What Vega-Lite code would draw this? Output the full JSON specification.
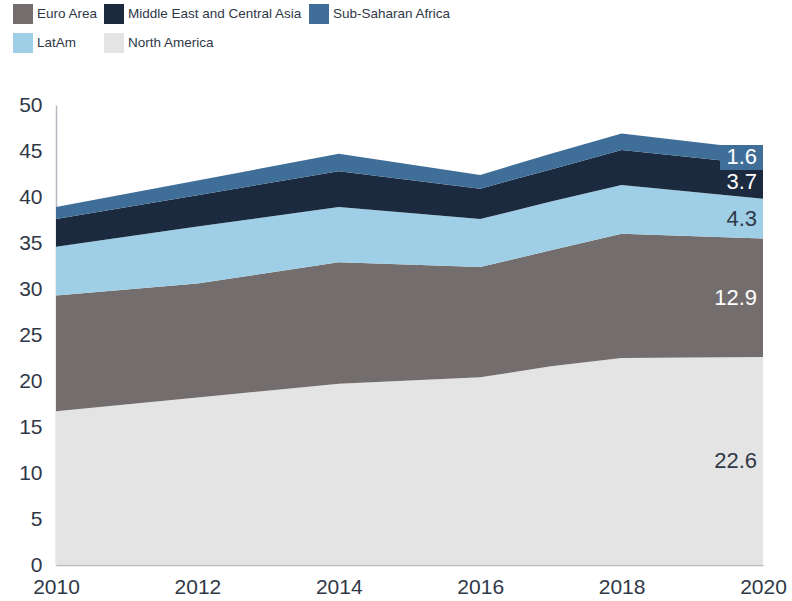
{
  "$schema": "https://vega.github.io/schema/vega-lite/v6.json",
  "width": 707,
  "height": 460,
  "autosize": {"type": "none"},
  "padding": {"left": 56, "top": 105, "right": 29, "bottom": 36},
  "background": "white",
  "config": {
    "view": {"stroke": null},
    "font": "Liberation Sans"
  },
  "data": {
    "values": [
      {"year": 2010, "region": "North America", "value": 16.7},
      {"year": 2010, "region": "Euro Area", "value": 12.6},
      {"year": 2010, "region": "LatAm", "value": 5.3},
      {"year": 2010, "region": "Middle East and Central Asia", "value": 3.0},
      {"year": 2010, "region": "Sub-Saharan Africa", "value": 1.3},
      {"year": 2012, "region": "North America", "value": 18.2},
      {"year": 2012, "region": "Euro Area", "value": 12.4},
      {"year": 2012, "region": "LatAm", "value": 6.2},
      {"year": 2012, "region": "Middle East and Central Asia", "value": 3.4},
      {"year": 2012, "region": "Sub-Saharan Africa", "value": 1.6},
      {"year": 2014, "region": "North America", "value": 19.7},
      {"year": 2014, "region": "Euro Area", "value": 13.2},
      {"year": 2014, "region": "LatAm", "value": 6.0},
      {"year": 2014, "region": "Middle East and Central Asia", "value": 3.9},
      {"year": 2014, "region": "Sub-Saharan Africa", "value": 1.9},
      {"year": 2016, "region": "North America", "value": 20.4},
      {"year": 2016, "region": "Euro Area", "value": 12.0},
      {"year": 2016, "region": "LatAm", "value": 5.2},
      {"year": 2016, "region": "Middle East and Central Asia", "value": 3.3},
      {"year": 2016, "region": "Sub-Saharan Africa", "value": 1.5},
      {"year": 2017, "region": "North America", "value": 21.6},
      {"year": 2017, "region": "Euro Area", "value": 12.6},
      {"year": 2017, "region": "LatAm", "value": 5.3},
      {"year": 2017, "region": "Middle East and Central Asia", "value": 3.5},
      {"year": 2017, "region": "Sub-Saharan Africa", "value": 1.7},
      {"year": 2018, "region": "North America", "value": 22.5},
      {"year": 2018, "region": "Euro Area", "value": 13.5},
      {"year": 2018, "region": "LatAm", "value": 5.3},
      {"year": 2018, "region": "Middle East and Central Asia", "value": 3.8},
      {"year": 2018, "region": "Sub-Saharan Africa", "value": 1.8},
      {"year": 2020, "region": "North America", "value": 22.6},
      {"year": 2020, "region": "Euro Area", "value": 12.9},
      {"year": 2020, "region": "LatAm", "value": 4.3},
      {"year": 2020, "region": "Middle East and Central Asia", "value": 3.7},
      {"year": 2020, "region": "Sub-Saharan Africa", "value": 1.6}
    ]
  },
  "transform": [
    {"calculate": "indexof(['North America','Euro Area','LatAm','Middle East and Central Asia','Sub-Saharan Africa'], datum.region)", "as": "ord"}
  ],
  "layer": [
    {
      "mark": {"type": "area", "opacity": 1},
      "encoding": {
        "x": {
          "field": "year", "type": "quantitative",
          "scale": {"domain": [2010, 2020], "nice": false, "zero": false},
          "axis": {
            "title": null, "values": [2010, 2012, 2014, 2016, 2018, 2020], "format": "d",
            "grid": false, "ticks": false, "domainColor": "#b5bac2", "domainWidth": 1.5,
            "labelFontSize": 21, "labelColor": "#2f3847", "labelPadding": 11, "labelFlush": false
          }
        },
        "y": {
          "field": "value", "type": "quantitative", "stack": "zero",
          "scale": {"domain": [0, 50], "nice": false},
          "axis": {
            "title": null, "values": [0, 5, 10, 15, 20, 25, 30, 35, 40, 45, 50],
            "grid": false, "ticks": false, "domainColor": "#b5bac2", "domainWidth": 1.5,
            "labelFontSize": 21, "labelColor": "#2f3847", "labelPadding": 14
          }
        },
        "order": {"field": "ord", "type": "quantitative"},
        "color": {
          "field": "region", "type": "nominal",
          "scale": {
            "domain": ["Euro Area", "Middle East and Central Asia", "Sub-Saharan Africa", "LatAm", "North America"],
            "range": ["#736e6d", "#1c2a40", "#3f6f98", "#9ecfe6", "#e4e4e4"]
          },
          "legend": {
            "title": null, "orient": "none", "legendX": -43, "legendY": -101,
            "direction": "horizontal", "columns": 3, "symbolType": "square", "symbolSize": 400,
            "symbolStrokeWidth": 0, "labelFontSize": 13.5, "labelColor": "#2f3847",
            "rowPadding": 9, "columnPadding": 6, "labelOffset": 4, "labelLimit": 400
          }
        }
      }
    },
    {
      "transform": [
        {"stack": "value", "groupby": ["year"], "sort": [{"field": "ord"}], "as": ["v0", "v1"]},
        {"calculate": "(datum.v0 + datum.v1) / 2", "as": "mid"},
        {"filter": "datum.year === 2020 && datum.region === 'Sub-Saharan Africa'"}
      ],
      "mark": {"type": "point", "shape": "M -1 -0.58 H 1 V 0.58 H -1 Z", "size": 1849, "filled": true, "opacity": 1, "xOffset": -21.5, "fill": "#3f6f98", "strokeWidth": 0},
      "encoding": {
        "x": {"field": "year", "type": "quantitative"},
        "y": {"field": "mid", "type": "quantitative"}
      }
    },
    {
      "transform": [
        {"stack": "value", "groupby": ["year"], "sort": [{"field": "ord"}], "as": ["v0", "v1"]},
        {"calculate": "(datum.v0 + datum.v1) / 2", "as": "mid"},
        {"filter": "datum.year === 2020"}
      ],
      "mark": {"type": "text", "align": "right", "baseline": "middle", "dx": -6, "fontSize": 22},
      "encoding": {
        "x": {"field": "year", "type": "quantitative"},
        "y": {"field": "mid", "type": "quantitative"},
        "text": {"field": "value", "type": "quantitative", "format": ".1f"},
        "fill": {
          "condition": {"test": "datum.region === 'LatAm' || datum.region === 'North America'", "value": "#2f3847"},
          "value": "white"
        }
      }
    }
  ]
}
